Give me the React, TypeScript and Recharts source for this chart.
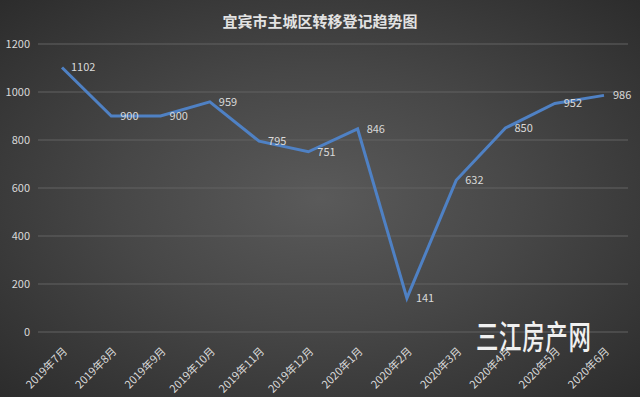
import { LineChart, Line, XAxis, YAxis, CartesianGrid, LabelList } from 'recharts';

const months = [
    '2019年7月', '2019年8月', '2019年9月', '2019年10月', '2019年11月', '2019年12月',
    '2020年1月', '2020年2月', '2020年3月', '2020年4月', '2020年5月', '2020年6月',
];
const transfers = [1102, 900, 900, 959, 795, 751, 846, 141, 632, 850, 952, 986];
const yTicks = [0, 200, 400, 600, 800, 1000, 1200];

const data = months.map((m, i) => ({ month: m, value: transfers[i] }));

const FONT = '"Noto Sans CJK SC", "Noto Sans", sans-serif';
const TEXT = '#d9d9d9';

const MonthTick = (props: any) => {
    const { x, y, payload } = props;
    return (
        <text
            x={x + 6}
            y={y + 12}
            textAnchor="end"
            fontSize={11}
            fill={TEXT}
            fontFamily={FONT}
            transform={`rotate(-45, ${x + 6}, ${y + 12})`}
        >
            {payload.value}
        </text>
    );
};

export default function App() {
    return (
        <div
            style={{
                position: 'absolute', left: 0, top: 0, width: 640, height: 397,
                background: 'radial-gradient(ellipse at 50% 50%, #5a5a5a 0%, #474747 45%, #2c2c2c 100%)',
                fontFamily: FONT,
            }}
        >
            <div style={{
                position: 'absolute', top: 10, left: 0, width: 640, textAlign: 'center',
                color: '#e2e2e2', fontSize: 15, fontWeight: 'bold',
            }}>
                宜宾市主城区转移登记趋势图
            </div>
            <LineChart width={640} height={397} data={data} margin={{ top: 44, right: 12, left: 0, bottom: 0 }}>
                <CartesianGrid vertical={false} stroke="#626262" strokeWidth={1} />
                <XAxis
                    dataKey="month"
                    axisLine={false}
                    tickLine={false}
                    interval={0}
                    height={65}
                    padding={{ left: 24, right: 24 }}
                    tick={<MonthTick />}
                />
                <YAxis
                    domain={[0, 1200]}
                    ticks={yTicks}
                    width={38}
                    axisLine={false}
                    tickLine={false}
                    tick={{ fill: TEXT, fontSize: 11, fontFamily: FONT }}
                />
                <Line
                    type="linear"
                    dataKey="value"
                    stroke="#4f81c4"
                    strokeWidth={3}
                    dot={false}
                    isAnimationActive={false}
                >
                    <LabelList dataKey="value" position="right" offset={9} fill={TEXT} fontSize={11} fontFamily={FONT} />
                </Line>
            </LineChart>
            <div style={{
                position: 'absolute', left: 476, top: 311, color: '#f0f0f0', fontSize: 33,
                fontWeight: 500, transform: 'scaleX(0.68)', transformOrigin: 'left top',
                whiteSpace: 'nowrap', letterSpacing: 1,
            }}>
                三江房产网
            </div>
        </div>
    );
}
